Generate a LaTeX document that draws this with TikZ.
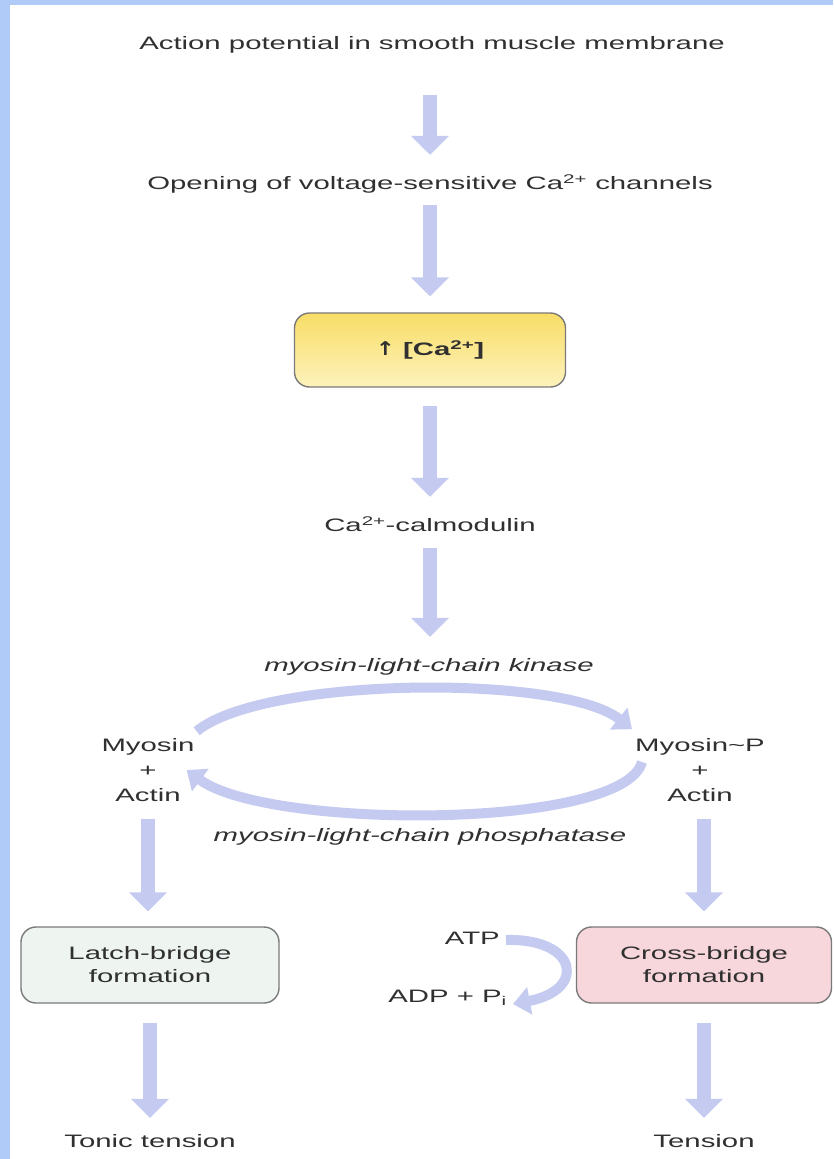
\documentclass[tikz,border=0pt]{standalone}
\usepackage{fontspec}
\setmainfont{Liberation Sans}[FakeStretch=1.63]
\newfontfamily\symfont{DejaVu Sans}[FakeStretch=1.2]
\usetikzlibrary{arrows.meta,calc}
\definecolor{bordc}{HTML}{B0CBF8}
\definecolor{arrowc}{HTML}{C5CBF0}
\definecolor{textc}{HTML}{303030}
\definecolor{boxline}{HTML}{7A7A7A}
\definecolor{ytop}{HTML}{F8DD66}
\definecolor{ybot}{HTML}{FDF2BC}
\definecolor{latchc}{HTML}{EEF5F1}
\definecolor{crossc}{HTML}{F7D6DC}
\begin{document}
\begin{tikzpicture}[x=1pt,y=-1pt,
  txt/.style={text=textc, font=\fontsize{18}{25}\selectfont, inner sep=0pt, text height=13pt, text depth=4pt},
  mtxt/.style={text=textc, font=\fontsize{18}{25}\selectfont, inner sep=0pt, align=center},
  itl/.style={txt, font=\fontsize{18}{25}\selectfont\itshape},
  rbox/.style={draw=boxline, line width=1.4pt, rounded corners=15pt, text=textc,
    font=\fontsize{18}{23}\selectfont, align=center, inner sep=0pt},
  blk/.style={arrowc, line width=14pt, -{Triangle[width=37pt,length=19pt]}},
  carc/.style={arrowc, line width=10pt, -{Triangle[width=27pt,length=17pt]}}
]
\useasboundingbox (0,0) rectangle (833,1159);
\fill[white] (0,0) rectangle (833,1159);
\fill[bordc] (0,0) rectangle (10,1159);
\fill[bordc] (0,0) rectangle (833,5);

% nodes
\node[txt] (t1) at (432,45) {Action potential in smooth muscle membrane};
\node[txt] (t2) at (430,185) {Opening of voltage-sensitive Ca\textsuperscript{2+} channels};
\node[rbox, minimum width=271pt, minimum height=74pt, top color=ytop, bottom color=ybot,
  font=\fontsize{18}{23}\selectfont\bfseries] (ca) at (430,350) {{\symfont\fontsize{19}{23}\selectfont\bfseries ↑} [Ca\textsuperscript{2+}]};
\node[txt] (cam) at (430,527) {Ca\textsuperscript{2+}-calmodulin};
\node[itl] (kin) at (429,667) {myosin-light-chain kinase};
\node[mtxt] (myoL) at (148,770) {Myosin\\+\\Actin};
\node[mtxt] (myoR) at (700,770) {Myosin\textasciitilde P\\+\\Actin};
\node[itl] (pho) at (420,837) {myosin-light-chain phosphatase};
\node[rbox, fill=latchc, minimum width=258pt, minimum height=76pt] (latch) at (150,965) {Latch-bridge\\formation};
\node[rbox, fill=crossc, minimum width=255pt, minimum height=76pt] (cross) at (704,965) {Cross-bridge\\formation};
\node[txt, anchor=east] (atp) at (500,940) {ATP};
\node[txt, anchor=east] (adp) at (507,998) {ADP + P\textsubscript{i}};
\node[txt] (tonic) at (150,1143) {Tonic tension};
\node[txt] (tens) at (704,1143) {Tension};

% straight block arrows
\draw[blk] ($(t2.north |- t1.south)+(0,41.5)$) -- ($(t2.north)+(0,-21.5)$);
\draw[blk] ($(t2.south)+(0,11.5)$) -- ($(ca.north)+(0,-16)$);
\draw[blk] ($(ca.south)+(0,18)$) -- ($(cam.north)+(0,-21.5)$);
\draw[blk] ($(cam.south)+(0,12.5)$) -- ($(cam.south |- kin.north)+(0,-21.5)$);
\draw[blk] ($(myoL.south)+(0,17)$) -- ($(myoL.south |- latch.north)+(0,-15)$);
\draw[blk] ($(cross.north |- myoR.south)+(0,17)$) -- ($(cross.north)+(0,-15)$);
\draw[blk] ($(latch.south)+(0,19)$) -- ($(tonic.north)+(0,-16.5)$);
\draw[blk] ($(cross.south)+(0,19)$) -- ($(tens.north)+(0,-16.5)$);

% cycle arrows
\coordinate (kS) at ($(myoL.north east)+(2,-7)$);
\coordinate (kE) at ($(myoR.north west)+(-3,-9)$);
\coordinate (pS) at ($(myoR.west)+(7,-8)$);
\coordinate (pE) at ($(myoL.east)+(-8,0)$);
\draw[carc] (kS) .. controls ($(kS)+(67,-55)$) and ($(kE)+(-69,-55)$) .. (kE);
\draw[carc] (pS) .. controls ($(pS)+(-18,68)$) and ($(pE)+(81,60)$) .. (pE);

% ATP -> ADP arrow
\draw[carc] ($(atp.east)+(6,0)$) .. controls +(72,-2) and ($(adp.east)+(80,-8)$) .. ($(adp.east)+(6,6)$);
\end{tikzpicture}
\end{document}
